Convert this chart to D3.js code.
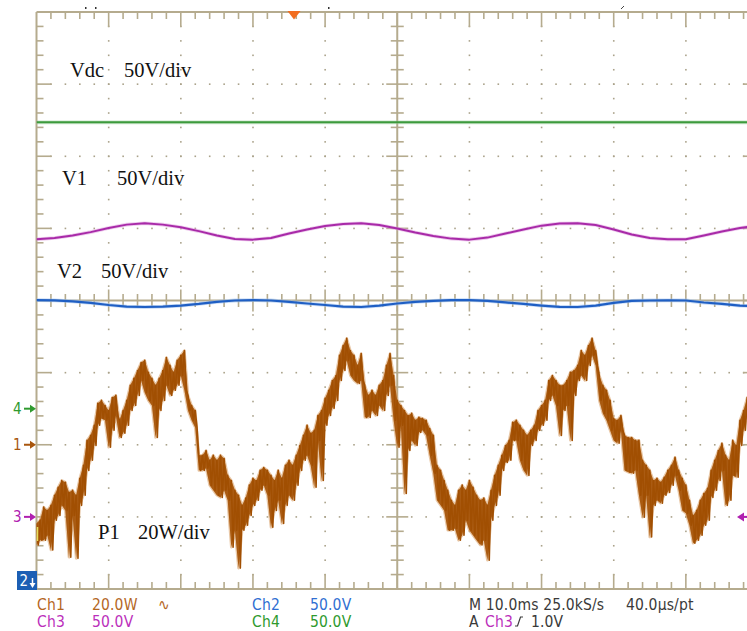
<!DOCTYPE html>
<html><head><meta charset="utf-8">
<script src="https://cdn.jsdelivr.net/npm/d3@7"></script>
<style>html,body{margin:0;padding:0;background:#fff;overflow:hidden}svg{display:block}</style>
</head><body>
<svg id="c" width="747" height="631"></svg>
<script>
// ---------------- data ----------------
// time base: 10 ms/div, 10 divisions; vertical 8 divisions
const timeDivMs = 10;
// Vdc (Ch4, 50 V/div)
const vdcTimeMs = [0, 25, 50, 75, 100];
const vdcVolts = [198.5, 198.5, 198.5, 198.5, 198.5];
// V1 (Ch3, 50 V/div), one reading every 2.5 ms
const v1StepMs = 2.5;
const v1Volts = [192.4,193.3,195.0,197.4,200.2,202.6,203.5,202.6,200.8,198.1,
 195.0,192.6,192.2,193.3,196.4,199.2,201.6,203.0,203.5,202.3,
 199.9,197.1,194.7,192.9,192.2,193.6,196.4,199.2,201.9,203.3,
 203.5,202.3,199.2,195.7,193.3,192.4,192.4,195.0,197.8,200.2,201.9];
// V2 (Ch2, 50 V/div), one reading every 2.5 ms
const v2StepMs = 2.5;
const v2Volts = [200.3,200.1,199.4,198.3,196.9,195.8,195.5,195.8,196.5,197.6,
 199.0,200.0,200.3,200.0,199.0,197.9,196.9,195.8,195.5,196.5,
 197.9,199.0,199.8,200.3,200.3,199.8,198.7,197.6,196.5,195.6,
 195.5,196.5,198.3,199.7,200.0,200.1,200.0,198.6,197.6,196.5,195.8];
// P1 (Ch1, 20 W/div), peak-detect envelope: max and min per 0.5 ms
const p1StepMs = 0.5;
const p1MaxW = [
-21.8,-20.9,-17.3,-18.2,-16.8,-14.0,-11.8,-9.9,-10.4,-13.2,
-12.6,-14.0,-9.3,-5.7,1.2,2.6,5.4,11.5,12.3,10.9,
9.5,13.1,13.7,6.8,9.5,12.3,16.5,18.4,20.6,22.8,
23.4,20.1,18.4,16.5,18.4,20.6,24.2,22.0,20.1,23.4,
24.8,26.1,13.7,10.9,9.5,-2.9,-2.9,-1.6,-4.3,-2.9,
-4.3,-2.9,-3.8,-8.5,-9.9,-12.6,-14.0,-16.8,-14.8,-11.2,
-9.3,-9.9,-7.1,-6.3,-7.1,-8.5,-9.9,-7.1,-9.3,-5.7,
-4.3,-5.7,-2.9,-0.2,2.6,5.4,3.2,4.0,8.1,9.5,
12.9,15.1,17.8,19.2,24.8,27.5,29.5,26.1,24.8,22.0,
25.3,16.5,13.7,15.1,13.7,16.5,17.8,22.0,25.3,19.2,
12.3,10.9,9.5,8.1,8.7,6.8,7.6,7.3,6.8,4.5,
2.6,-5.7,-7.1,-9.9,-12.6,-15.4,-16.8,-12.6,-11.2,-12.6,
-9.9,-11.8,-14.0,-15.4,-14.8,-16.8,-12.6,-8.5,-5.7,-2.9,
-0.2,1.2,6.2,6.8,5.4,4.0,2.6,4.0,5.4,9.5,
10.9,12.3,17.8,19.2,17.8,16.5,16.5,17.8,20.1,20.6,
22.0,26.1,24.8,27.5,29.5,26.1,19.2,16.5,15.1,12.3,
7.3,6.8,8.1,2.6,2.0,2.0,1.2,1.2,-4.3,-5.7,
-7.1,-9.9,-9.3,-10.4,-9.0,-7.1,-5.7,-3.5,-7.1,-9.3,
-11.2,-15.4,-19.6,-18.2,-15.4,-13.5,-12.1,-7.1,-4.3,-1.6,
0.4,-2.9,-4.3,1.2,-0.2,6.8,9.5,13.1,13.7];
const p1MinW = [
-27.8,-26.5,-26.5,-25.1,-29.2,-20.9,-19.6,-16.8,-18.2,-31.2,
-19.6,-31.5,-16.8,-14.0,-7.1,-4.3,-0.2,5.4,7.3,6.8,
-0.7,4.0,8.1,2.0,3.2,5.4,9.5,10.9,13.7,17.8,
14.5,12.3,10.9,2.0,9.5,12.3,16.5,13.7,15.1,16.5,
19.2,15.1,9.5,6.8,4.8,-7.1,-7.1,-6.5,-11.2,-12.6,
-14.0,-14.6,-12.6,-15.4,-28.4,-23.7,-34.2,-23.7,-22.3,-19.6,
-16.8,-15.4,-12.6,-11.2,-14.0,-22.9,-18.2,-15.4,-21.8,-16.8,
-14.0,-15.4,-11.2,-7.1,-4.3,-2.9,-5.7,-11.8,1.2,-9.9,
5.4,8.1,10.1,12.3,17.8,20.6,23.4,19.2,17.8,17.0,
17.8,7.6,7.6,9.5,8.1,10.9,9.5,13.7,16.5,6.8,
-0.7,5.4,-13.5,-1.6,1.2,-0.2,3.4,4.0,2.6,-2.9,
-7.9,-15.4,-16.8,-18.2,-23.7,-23.7,-23.2,-26.5,-25.1,-20.9,
-23.7,-25.1,-26.5,-27.8,-26.5,-32.0,-20.9,-16.8,-14.0,-7.1,
-4.9,-4.3,1.2,1.2,-4.3,-7.1,-8.5,-0.2,1.2,4.0,
5.4,6.8,12.3,13.7,10.9,2.6,9.5,10.9,1.2,13.7,
17.8,19.2,17.8,22.0,24.8,22.0,12.3,8.7,6.8,4.0,
1.2,0.4,4.0,-7.1,-7.6,-7.9,-7.1,-14.0,-20.1,-14.0,
-25.6,-16.8,-15.4,-16.2,-14.0,-13.2,-11.2,-8.5,-12.6,-18.2,
-19.0,-22.3,-27.3,-26.5,-25.1,-22.3,-20.9,-14.6,-12.6,-9.9,
-7.1,-16.8,-15.4,-8.5,-9.0,-0.2,4.0,8.1,9.5];

// trace labels
const traceLabels = [
  {name: "Vdc", scale: "50V/div"},
  {name: "V1",  scale: "50V/div"},
  {name: "V2",  scale: "50V/div"},
  {name: "P1",  scale: "20W/div"}
];
// status readout
const statusRow1 = ["Ch1", "20.0W", "\u223F", "Ch2", "50.0V", "M 10.0ms 25.0kS/s", "40.0\u00B5s/pt"];
const statusRow2 = ["Ch3", "50.0V", "Ch4", "50.0V", "A", "Ch3", "1.0V"];

// channel settings (units per div, ground position in div)
const ch = {
  ch1: {perDiv: 20, ground: -2.0, color: "#a14f02"},
  ch2: {perDiv: 50, ground: -4.0, color: "#1f5fc4"},
  ch3: {perDiv: 50, ground: -3.0, color: "#a82aa8"},
  ch4: {perDiv: 50, ground: -1.5, color: "#3d9a3d"}
};

// ---------------- drawing ----------------
const svg = d3.select("#c");
const X0 = 36.5, X1 = 758, Y0 = 12, Y1 = 589;
const x = d3.scaleLinear().domain([0, 10 * timeDivMs]).range([X0, X1]);
const y = d3.scaleLinear().domain([-4, 4]).range([Y1, Y0]);
const toDiv = (c, v) => v / ch[c].perDiv + ch[c].ground;

const gridCol = "#b5ab8e", dotCol = "#aaa28a";
const grid = svg.append("g");

const minorX = d3.range(0, 100.001, 2);
const minorY = d3.range(-4, 4.001, 0.2).map(v => Math.round(v * 10) / 10);
const isMajX = v => Math.abs(v / 10 - Math.round(v / 10)) < 1e-6;
const isMajY = v => Math.abs(v - Math.round(v)) < 1e-6;

// dotted major lines
const dots = [];
[10, 20, 30, 40, 60, 70, 80, 90].forEach(mx => minorY.forEach(my => {
  if (Math.abs(my) < 3.99) dots.push([x(mx), y(my)]);
}));
[-3, -2, -1, 1, 2, 3].forEach(my => minorX.forEach(mx => {
  if (mx > 0.1 && mx < 99.9) dots.push([x(mx), y(my)]);
}));
grid.selectAll("rect.dot").data(dots).join("rect").attr("class", "dot")
  .attr("x", d => d[0] - 0.75).attr("y", d => d[1] - 0.75)
  .attr("width", 1.6).attr("height", 1.6).attr("fill", dotCol);

const segs = [];
// border
segs.push([X0, Y0, X1, Y0, 2], [X0, Y1, X1, Y1, 2], [X0, Y0, X0, Y1, 2], [X1, Y0, X1, Y1, 2]);
// border ticks
minorY.forEach(my => {
  if (Math.abs(my) > 3.99) return;
  const L = isMajY(my) ? 15 : 7;
  segs.push([X0, y(my), X0 + L, y(my), 1.6], [X1, y(my), X1 - L, y(my), 1.6]);
});
minorX.forEach(mx => {
  if (mx < 0.1 || mx > 99.9) return;
  const L = isMajX(mx) ? 15 : 7;
  segs.push([x(mx), Y0, x(mx), Y0 + L, 1.6], [x(mx), Y1, x(mx), Y1 - L, 1.6]);
});
// centre cross
segs.push([x(50), Y0, x(50), Y1, 2], [X0, y(0), X1, y(0), 2]);
minorY.forEach(my => {
  if (Math.abs(my) > 3.99) return;
  const h = isMajY(my) ? 11 : 6.5;
  segs.push([x(50) - h, y(my), x(50) + h, y(my), 1.6]);
});
minorX.forEach(mx => {
  if (mx < 0.1 || mx > 99.9) return;
  const h = isMajX(mx) ? 11 : 6.5;
  segs.push([x(mx), y(0) - h, x(mx), y(0) + h, 1.6]);
});
grid.selectAll("line").data(segs).join("line")
  .attr("x1", d => d[0]).attr("y1", d => d[1]).attr("x2", d => d[2]).attr("y2", d => d[3])
  .attr("stroke", gridCol).attr("stroke-width", d => d[4]);

// clip for traces
svg.append("clipPath").attr("id", "clip").append("rect")
  .attr("x", X0).attr("y", Y0).attr("width", X1 - X0).attr("height", Y1 - Y0);
const tr = svg.append("g").attr("clip-path", "url(#clip)");
const line = d3.line().x(d => x(d[0])).y(d => y(d[1]));

function trace(c, pts, w, halo) {
  tr.append("path").attr("d", line(pts)).attr("fill", "none")
    .attr("stroke", halo).attr("stroke-width", w + 1.6).attr("stroke-opacity", 0.55)
    .attr("stroke-linejoin", "round");
  tr.append("path").attr("d", line(pts)).attr("fill", "none")
    .attr("stroke", ch[c].color).attr("stroke-width", w).attr("stroke-linejoin", "round");
}

trace("ch4", vdcTimeMs.map((t, i) => [t, toDiv("ch4", vdcVolts[i])]), 2, "#9fd09f");
trace("ch3", v1Volts.map((v, i) => [i * v1StepMs, toDiv("ch3", v)]), 2, "#e0a0e0");
trace("ch2", v2Volts.map((v, i) => [i * v2StepMs, toDiv("ch2", v)]), 2.2, "#9cc0ee");

// P1: filled peak-detect band + zigzag stroke
const p1band = p1MaxW.map((w, i) => ({t: i * p1StepMs, hi: toDiv("ch1", w), lo: toDiv("ch1", p1MinW[i])}));
const area = d3.area().x(d => x(d.t)).y0(d => y(d.lo)).y1(d => y(d.hi));
tr.append("path").attr("d", area(p1band)).attr("fill", "#d9a26a").attr("stroke", "#d9a26a")
  .attr("stroke-width", 2.6).attr("stroke-opacity", 0.6).attr("stroke-linejoin", "round");
tr.append("path").attr("d", area(p1band)).attr("fill", ch.ch1.color).attr("fill-opacity", 0.85);
const p1pts = [];
p1band.forEach(d => {
  p1pts.push([d.t, d.hi]);
  p1pts.push([d.t + p1StepMs / 2, d.lo]);
});
tr.append("path").attr("d", line(p1pts)).attr("fill", "none")
  .attr("stroke", ch.ch1.color).attr("stroke-width", 1.6).attr("stroke-linejoin", "round");

// trace labels
const lab = svg.append("g").attr("font-family", "'Liberation Serif','Times New Roman',serif")
  .attr("font-size", "20.5px").attr("fill", "#111");
const labPos = [[70, 124, 77], [62, 117, 185], [57, 101, 278], [98, 138, 539]];
traceLabels.forEach((l, i) => {
  lab.append("text").attr("x", labPos[i][0]).attr("y", labPos[i][2]).text(l.name);
  lab.append("text").attr("x", labPos[i][1]).attr("y", labPos[i][2]).text(l.scale);
});

// channel ground markers (left)
function arrowR(x1, x2, yy, col) {
  svg.append("line").attr("x1", x1).attr("y1", yy).attr("x2", x2 - 4).attr("y2", yy)
    .attr("stroke", col).attr("stroke-width", 2);
  svg.append("path").attr("d", `M${x2 - 6},${yy - 4}L${x2},${yy}L${x2 - 6},${yy + 4}Z`).attr("fill", col);
}
const mkFont = "'Liberation Sans Narrow','DejaVu Sans Condensed',sans-serif";
[["4", "ch4", "#2f9a2f"], ["1", "ch1", "#a8560e"], ["3", "ch3", "#b020b0"]].forEach(([t, c, col]) => {
  const yy = y(ch[c].ground);
  svg.append("text").attr("font-family", mkFont).attr("font-size", "15px")
    .attr("x", 13).attr("y", yy + 5.5).attr("fill", col).text(t);
  arrowR(24, 36, yy, col);
});
// ch2 marker (off-screen below)
svg.append("rect").attr("x", 17).attr("y", 571).attr("width", 20).attr("height", 19).attr("fill", "#1c5fb4");
svg.append("text").attr("font-family", mkFont).attr("font-size", "15px")
  .attr("x", 19.5).attr("y", 586).attr("fill", "#fff").text("2");
svg.append("path").attr("d", "M29.5,583L35.5,583L32.5,588Z").attr("fill", "#fff");
svg.append("line").attr("x1", 32.5).attr("y1", 578).attr("x2", 32.5).attr("y2", 584).attr("stroke", "#fff").attr("stroke-width", 1.5);
// trigger level marker (right)
svg.append("path").attr("d", `M737,${y(-3)}L744,${y(-3) - 4.5}L744,${y(-3) + 4.5}Z`).attr("fill", "#b020b0");
svg.append("line").attr("x1", 742).attr("y1", y(-3)).attr("x2", 747).attr("y2", y(-3)).attr("stroke", "#b020b0").attr("stroke-width", 2);
// trigger position marker (top)
svg.append("path").attr("d", "M287.5,11L300.5,11L294,19.5Z").attr("fill", "#f26d1f");
// small yellow mark at left edge
svg.append("line").attr("x1", 37.5).attr("y1", 527).attr("x2", 37.5).attr("y2", 541).attr("stroke", "#e6dc5a").attr("stroke-width", 1.5);
// residual marks above the graticule
[[85, 7], [95, 7], [328, 7]].forEach(p => svg.append("rect").attr("x", p[0]).attr("y", p[1]).attr("width", 1.5).attr("height", 2).attr("fill", "#333"));
svg.append("line").attr("x1", 621).attr("y1", 9).attr("x2", 624).attr("y2", 6).attr("stroke", "#444").attr("stroke-width", 1);

// status readout
const st = svg.append("g").attr("font-family", mkFont)
  .attr("font-size", "15.5px").attr("letter-spacing", "0.15px");
const r1 = [[37, "#b4671f"], [92, "#b4671f"], [158, "#b4671f"], [252, "#2f6fd2"], [310, "#2f6fd2"], [469, "#3a3a3a"], [626, "#3a3a3a"]];
statusRow1.forEach((t, i) => st.append("text").attr("x", r1[i][0]).attr("y", 610).attr("fill", r1[i][1]).text(t));
const r2 = [[37, "#bb2fbb"], [92, "#bb2fbb"], [252, "#2e9a2e"], [310, "#2e9a2e"], [469, "#3a3a3a"], [485, "#bb2fbb"], [531, "#3a3a3a"]];
statusRow2.forEach((t, i) => st.append("text").attr("x", r2[i][0]).attr("y", 627).attr("fill", r2[i][1]).text(t));
// rising-edge slope symbol
svg.append("path").attr("d", "M515,626L517.5,626L520.5,617L523,617").attr("fill", "none").attr("stroke", "#3a3a3a").attr("stroke-width", 1.2);
</script>
</body></html>
